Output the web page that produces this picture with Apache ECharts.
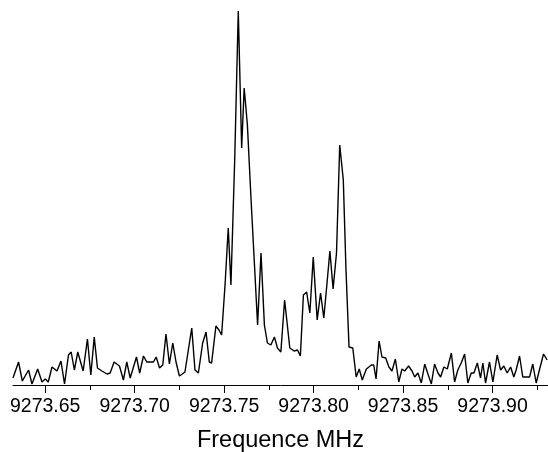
<!DOCTYPE html>
<html>
<head>
<meta charset="utf-8">
<script src="https://cdn.jsdelivr.net/npm/echarts@6/dist/echarts.min.js"></script>
<style>
html,body{margin:0;padding:0;background:#fff;}
#chart{width:548px;height:452px;}
</style>
</head>
<body>
<div id="chart"></div>
<script>
// Frequencies (MHz) of the spectrum points
const freqs = [
9273.6320,9273.6351,9273.6372,9273.6407,9273.6426,9273.6458,9273.6482,9273.6500,9273.6517,9273.6538,
9273.6566,9273.6588,9273.6608,9273.6630,9273.6645,9273.6663,9273.6682,9273.6712,9273.6736,9273.6755,
9273.6774,9273.6792,9273.6817,9273.6845,9273.6863,9273.6885,9273.6915,9273.6937,9273.6956,9273.6975,
9273.7010,9273.7028,9273.7049,9273.7068,9273.7086,9273.7105,9273.7120,9273.7139,9273.7157,9273.7175,
9273.7194,9273.7213,9273.7231,9273.7250,9273.7266,9273.7281,9273.7300,9273.7319,9273.7337,9273.7356,
9273.7380,9273.7399,9273.7417,9273.7430,9273.7454,9273.7471,9273.7486,9273.7505,9273.7523,9273.7538,
9273.7559,9273.7579,9273.7598,9273.7612,9273.7630,9273.7650,9273.7669,9273.7687,9273.7706,9273.7725,
9273.7742,9273.7761,9273.7781,9273.7798,9273.7817,9273.7838,9273.7867,9273.7891,9273.7910,9273.7926,
9273.7943,9273.7961,9273.7979,9273.7998,9273.8020,9273.8039,9273.8057,9273.8074,9273.8091,9273.8109,
9273.8128,9273.8146,9273.8166,9273.8181,9273.8198,9273.8219,9273.8238,9273.8255,9273.8272,9273.8295,
9273.8323,9273.8336,9273.8349,9273.8366,9273.8382,9273.8403,9273.8421,9273.8438,9273.8457,9273.8476,
9273.8494,9273.8509,9273.8531,9273.8550,9273.8565,9273.8583,9273.8602,9273.8621,9273.8639,9273.8658,
9273.8676,9273.8695,9273.8710,9273.8728,9273.8747,9273.8770,9273.8788,9273.8806,9273.8825,9273.8844,
9273.8862,9273.8881,9273.8896,9273.8915,9273.8933,9273.8946,9273.8961,9273.8983,9273.9002,9273.9026,
9273.9045,9273.9063,9273.9082,9273.9101,9273.9119,9273.9132,9273.9151,9273.9169,9273.9188,9273.9207,
9273.9225,9273.9244,9273.9262,9273.9285,9273.9305
];
// Intensity (arbitrary units)
const intensity = [
7,23,4,15,1,16,3,6,3,18,
14,24,1,30,33,15,33,14,46,10,
48,17,14,11,12,23,19,5,23,7,
28,12,29,23,23,23,28,17,20,51,
21,42,23,9,11,13,35,57,15,12,
42,53,23,22,59,55,50,100,157,100,
225,374,237,297,260,187,122,60,132,60,
42,40,48,37,33,85,37,34,35,29,
90,93,72,128,65,92,67,100,134,96,
132,240,205,115,38,37,8,16,5,16,
20,20,6,44,28,27,18,14,26,3,
16,14,19,14,8,12,2,21,11,1,
21,12,8,18,16,32,3,15,22,31,
2,12,12,22,7,22,2,23,3,30,
15,19,12,18,8,15,29,8,8,8,
21,2,15,31,25
];
const majorTicks = [9273.65, 9273.70, 9273.75, 9273.80, 9273.85, 9273.90];
const minorTicks = [9273.675, 9273.725, 9273.775, 9273.825, 9273.875, 9273.925];
const axisTitle = 'Frequence MHz';

const FONT = '"Liberation Sans", Arial, sans-serif';
const XMIN = 9273.632, XMAX = 9273.931;

const chart = echarts.init(document.getElementById('chart'), null, {renderer: 'canvas'});
const points = freqs.map((f, i) => [f, intensity[i]]);

chart.setOption({
  animation: false,
  backgroundColor: '#ffffff',
  grid: {left: 13, right: 0, top: 5, bottom: 67, containLabel: false, outerBoundsMode: 'none'},
  xAxis: [
    {
      type: 'value', min: XMIN, max: XMAX,
      name: axisTitle, nameLocation: 'middle', nameGap: 44,
      nameTextStyle: {fontFamily: FONT, fontSize: 23.5, color: '#000'},
      axisLine: {show: true, onZero: false, lineStyle: {color: '#000', width: 1}},
      axisTick: {show: true, customValues: majorTicks, length: 8, lineStyle: {color: '#000', width: 1}},
      axisLabel: {show: true, customValues: majorTicks, margin: 12, fontFamily: FONT, fontSize: 19.5, color: '#000',
        formatter: v => Number(v).toFixed(2)},
      splitLine: {show: false}
    },
    {
      type: 'value', min: XMIN, max: XMAX, position: 'bottom',
      axisLine: {show: false, onZero: false},
      axisTick: {show: true, customValues: minorTicks, length: 5, lineStyle: {color: '#000', width: 1}},
      axisLabel: {show: false},
      splitLine: {show: false}
    }
  ],
  yAxis: {
    type: 'value', min: 0, max: 380, show: false,
    splitLine: {show: false}
  },
  series: [{
    type: 'line',
    data: points,
    xAxisIndex: 0,
    showSymbol: false,
    symbol: 'none',
    lineStyle: {color: '#000', width: 1.4},
    clip: true
  }]
});
</script>
</body>
</html>
